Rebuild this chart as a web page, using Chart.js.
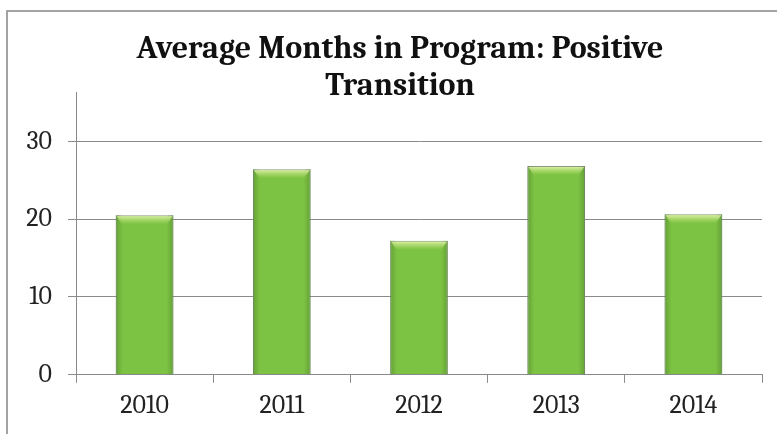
<!DOCTYPE html>
<html>
<head>
<meta charset="utf-8">
<script src="https://cdn.jsdelivr.net/npm/chart.js@4/dist/chart.umd.min.js"></script>
<style>
  html, body { margin: 0; padding: 0; background: #fff; }
  #wrap { position: relative; width: 777px; height: 434px; }
  canvas { display: block; }
</style>
</head>
<body>
<div id="wrap"><canvas id="c" width="777" height="434"></canvas></div>
<script>
const categories = ["2010", "2011", "2012", "2013", "2014"];
const avgMonths = [20.5, 26.4, 17.2, 26.8, 20.6];
const yTickValues = [0, 10, 20, 30];
const titleLines = ["Average Months in Program: Positive", "Transition"];

const serif = "Cambria, 'Liberation Serif', 'DejaVu Serif', serif";

const frame = {
  id: 'frame',
  beforeDraw(chart) {
    const ctx = chart.ctx;
    ctx.save();
    ctx.strokeStyle = '#a3a3a3';
    ctx.lineWidth = 2;
    ctx.beginPath();
    ctx.moveTo(7, chart.height);
    ctx.lineTo(7, 11);
    ctx.lineTo(chart.width, 11);
    ctx.stroke();
    ctx.restore();
  }
};

const barGloss = {
  id: 'barGloss',
  afterDatasetsDraw(chart) {
    const ctx = chart.ctx;
    const meta = chart.getDatasetMeta(0);
    ctx.save();
    meta.data.forEach(el => {
      const p = el.getProps(['x', 'y', 'base', 'width'], true);
      const left = p.x - p.width / 2, right = p.x + p.width / 2;
      const g = ctx.createLinearGradient(left, 0, right, 0);
      g.addColorStop(0, 'rgba(70,120,40,0.45)');
      g.addColorStop(0.12, 'rgba(70,120,40,0.0)');
      g.addColorStop(0.88, 'rgba(70,120,40,0.0)');
      g.addColorStop(1, 'rgba(70,120,40,0.45)');
      ctx.fillStyle = g;
      ctx.fillRect(left, p.y, p.width, p.base - p.y);
      const h = 9;
      const tg = ctx.createLinearGradient(0, p.y, 0, p.y + h);
      tg.addColorStop(0, 'rgba(235,248,180,0.95)');
      tg.addColorStop(1, 'rgba(200,230,130,0.0)');
      ctx.fillStyle = tg;
      ctx.beginPath();
      ctx.moveTo(left + 1, p.y + 1);
      ctx.lineTo(right - 1, p.y + 1);
      ctx.lineTo(right - 6, p.y + h);
      ctx.lineTo(left + 6, p.y + h);
      ctx.closePath();
      ctx.fill();
    });
    ctx.restore();
  }
};

new Chart(document.getElementById('c'), {
  type: 'bar',
  data: {
    labels: categories,
    datasets: [{
      data: avgMonths,
      backgroundColor: '#7dc343',
      borderColor: '#8c9a80',
      borderWidth: 1,
      categoryPercentage: 1,
      barPercentage: 0.42,
      yAxisID: 'y'
    }]
  },
  options: {
    responsive: false,
    animation: false,
    events: [],
    layout: { padding: { left: 23, right: 0, top: 0, bottom: 6 } },
    plugins: {
      legend: { display: false },
      tooltip: { enabled: false },
      title: {
        display: true,
        text: titleLines,
        color: '#111',
        font: { family: serif, size: 32, weight: 'bold', lineHeight: 1.17 },
        padding: { top: 30, bottom: -12 }
      }
    },
    scales: {
      x: {
        grid: { drawOnChartArea: false, drawTicks: true, tickLength: 8, color: '#8a8a8a', offset: true },
        border: { display: true, color: '#8a8a8a', width: 1 },
        ticks: { color: '#222', font: { family: serif, size: 26 }, padding: 7 }
      },
      y: {
        min: 0,
        max: 36.2,
        afterBuildTicks(scale) {
          scale.ticks = yTickValues.map(v => ({ value: v }));
        },
        afterFit(scale) { scale.width = 53; },
        grid: { color: '#8a8a8a', tickLength: 8, lineWidth: 1 },
        border: { display: true, color: '#8a8a8a', width: 1 },
        ticks: { color: '#222', font: { family: serif, size: 26 }, padding: 16 }
      },
      y2: {
        position: 'right',
        display: true,
        afterFit(scale) { scale.width = 15; },
        grid: { drawOnChartArea: false, drawTicks: false },
        border: { display: false },
        ticks: { display: false }
      }
    }
  },
  plugins: [frame, barGloss]
});
</script>
</body>
</html>
